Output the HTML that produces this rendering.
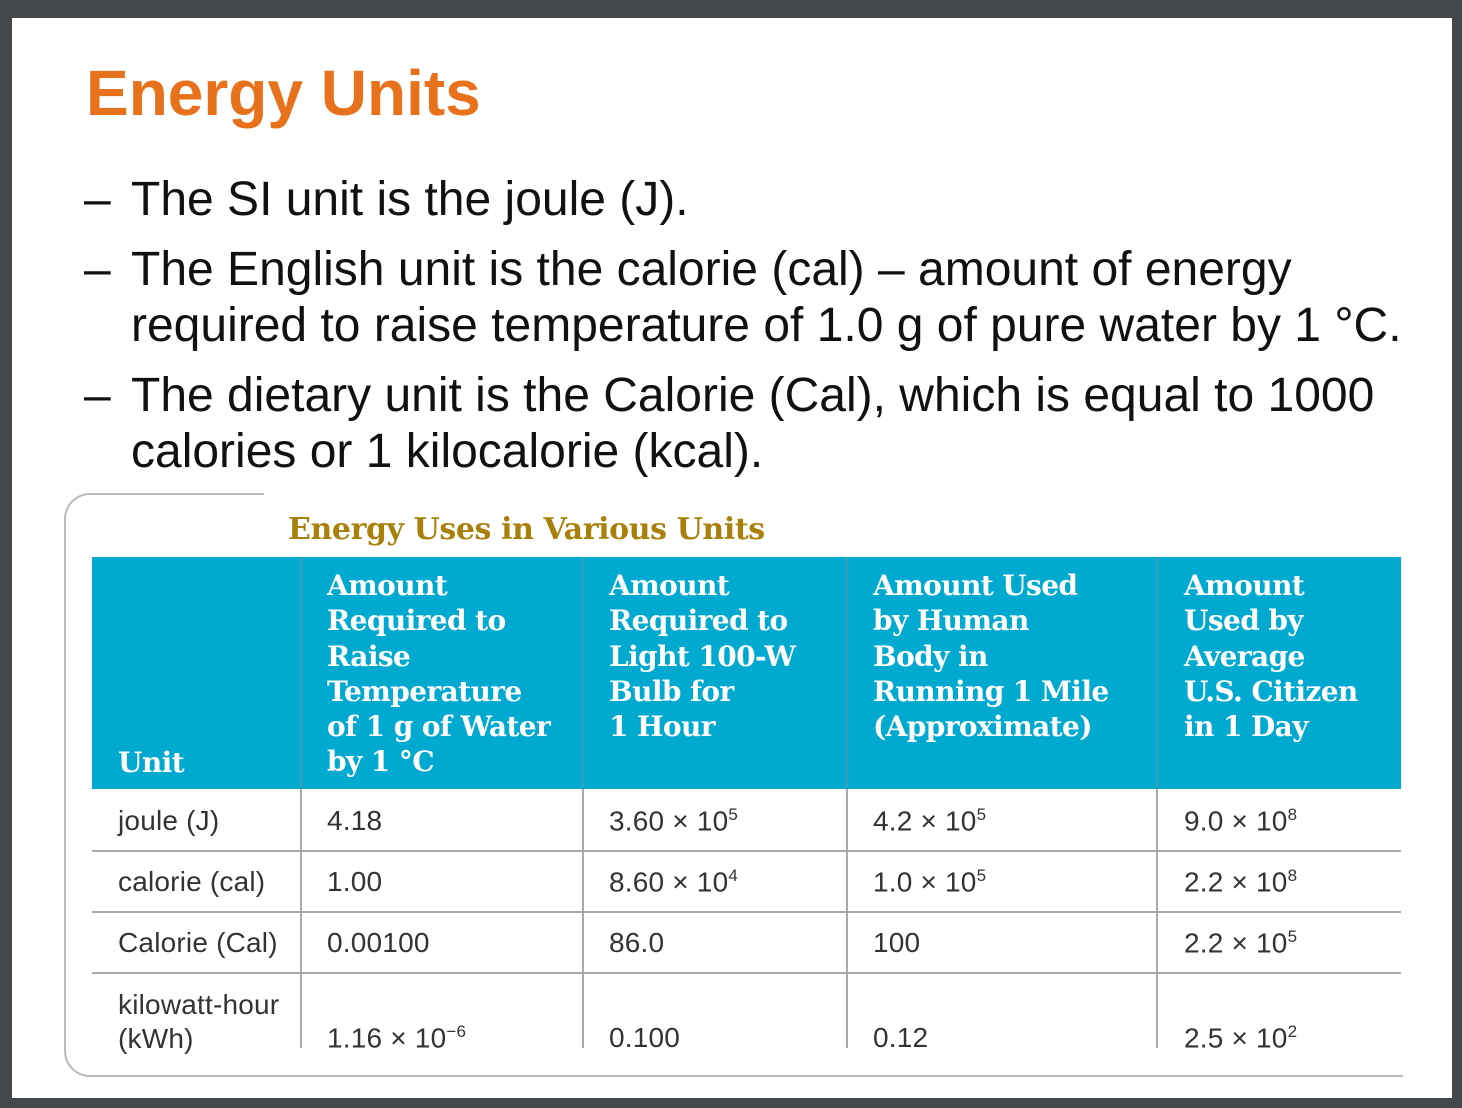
<!DOCTYPE html>
<html><head><meta charset="utf-8"><style>
body{margin:0;width:1462px;height:1108px;background:#45484b;position:relative;overflow:hidden;font-family:"Liberation Sans",sans-serif}
.slide{position:absolute;left:12px;top:18px;width:1440px;height:1080px;background:#fff}
.abs{position:absolute;white-space:nowrap}
.title{left:86px;top:56px;font-size:64px;font-weight:bold;color:#e8711b}
.b{font-size:48px;color:#111;line-height:56px}
.hd{position:absolute;color:#fff;font-family:"DejaVu Serif","Liberation Serif",serif;font-weight:bold;font-size:28px;line-height:35.3px;letter-spacing:-0.6px;white-space:nowrap}
.cell{position:absolute;font-size:28px;color:#333;white-space:nowrap;letter-spacing:0.2px}
.vl{position:absolute;width:2px;background:#aaa}
.hl{position:absolute;height:2px;background:#aaa;left:92px;width:1309px}
sup{font-size:17px}
</style></head><body>
<div class="slide"></div>
<div class="abs title">Energy Units</div>
<div class="abs b" style="left:84px;top:172px">–</div>
<div class="abs b" style="left:131px;top:172px">The SI unit is the joule (J).</div>
<div class="abs b" style="left:84px;top:242px">–</div>
<div class="abs b" style="left:131px;top:242px">The English unit is the calorie (cal) – amount of energy<br>required to raise temperature of 1.0 g of pure water by 1 °C.</div>
<div class="abs b" style="left:84px;top:368px">–</div>
<div class="abs b" style="left:131px;top:368px">The dietary unit is the Calorie (Cal), which is equal to 1000<br>calories or 1 kilocalorie (kcal).</div>
<div class="abs" style="left:64px;top:493px;width:1337px;height:580px;border-left:2px solid #bbb;border-top:2px solid #bbb;border-bottom:2px solid #bbb;border-top-left-radius:26px;border-bottom-left-radius:26px;clip-path:polygon(0 0,200px 0,200px 40px,100% 40px,100% 100%,0 100%)"></div>
<div class="abs" style="left:288px;top:512px;font-family:'DejaVu Serif','Liberation Serif',serif;font-weight:bold;font-size:30px;color:#a8800a;letter-spacing:-0.4px">Energy Uses in Various Units</div>
<div class="abs" style="left:92px;top:557px;width:1309px;height:232px;background:#00a9d0"></div>
<div class="vl" style="left:300px;top:557px;height:232px;background:#3a9cb8"></div>
<div class="vl" style="left:582px;top:557px;height:232px;background:#3a9cb8"></div>
<div class="vl" style="left:846px;top:557px;height:232px;background:#3a9cb8"></div>
<div class="vl" style="left:1156px;top:557px;height:232px;background:#3a9cb8"></div>
<div class="hd" style="left:118px;top:745px">Unit</div>
<div class="hd" style="left:327px;top:568px">Amount<br>Required to<br>Raise<br>Temperature<br>of 1 g of Water<br>by 1 °C</div>
<div class="hd" style="left:609px;top:568px">Amount<br>Required to<br>Light 100-W<br>Bulb for<br>1 Hour</div>
<div class="hd" style="left:873px;top:568px">Amount Used<br>by Human<br>Body in<br>Running 1 Mile<br>(Approximate)</div>
<div class="hd" style="left:1184px;top:568px">Amount<br>Used by<br>Average<br>U.S. Citizen<br>in 1 Day</div>
<div class="vl" style="left:300px;top:789px;height:259px"></div>
<div class="vl" style="left:582px;top:789px;height:259px"></div>
<div class="vl" style="left:846px;top:789px;height:259px"></div>
<div class="vl" style="left:1156px;top:789px;height:259px"></div>
<div class="hl" style="top:850px"></div><div class="hl" style="top:911px"></div><div class="hl" style="top:972px"></div>
<div class="cell" style="left:118px;top:805px">joule (J)</div><div class="cell" style="left:327px;top:805px">4.18</div><div class="cell" style="left:609px;top:805px">3.60 × 10<sup>5</sup></div><div class="cell" style="left:873px;top:805px">4.2 × 10<sup>5</sup></div><div class="cell" style="left:1184px;top:805px">9.0 × 10<sup>8</sup></div>
<div class="cell" style="left:118px;top:866px">calorie (cal)</div><div class="cell" style="left:327px;top:866px">1.00</div><div class="cell" style="left:609px;top:866px">8.60 × 10<sup>4</sup></div><div class="cell" style="left:873px;top:866px">1.0 × 10<sup>5</sup></div><div class="cell" style="left:1184px;top:866px">2.2 × 10<sup>8</sup></div>
<div class="cell" style="left:118px;top:927px">Calorie (Cal)</div><div class="cell" style="left:327px;top:927px">0.00100</div><div class="cell" style="left:609px;top:927px">86.0</div><div class="cell" style="left:873px;top:927px">100</div><div class="cell" style="left:1184px;top:927px">2.2 × 10<sup>5</sup></div>
<div class="cell" style="left:118px;top:988px;line-height:34px">kilowatt-hour<br>(kWh)</div><div class="cell" style="left:327px;top:1022px">1.16 × 10<sup>−6</sup></div><div class="cell" style="left:609px;top:1022px">0.100</div><div class="cell" style="left:873px;top:1022px">0.12</div><div class="cell" style="left:1184px;top:1022px">2.5 × 10<sup>2</sup></div>
</body></html>
